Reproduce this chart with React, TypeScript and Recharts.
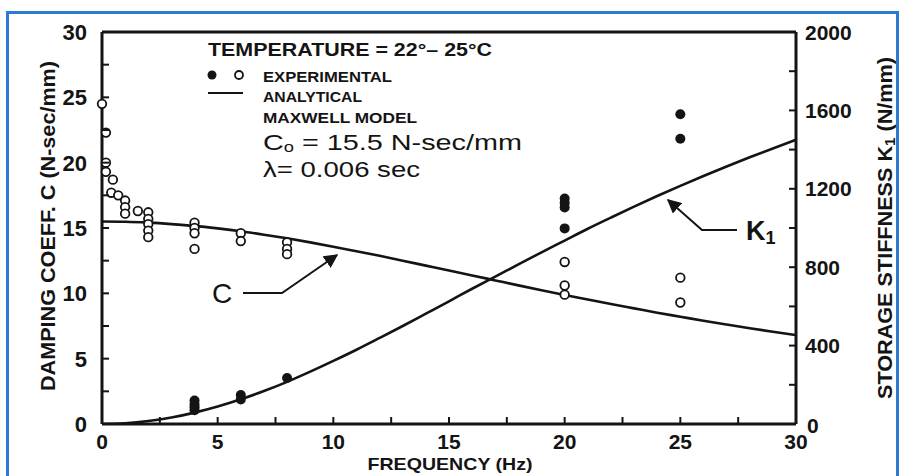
import React from 'react';
import {
  ComposedChart,
  Line,
  Scatter,
  XAxis,
  YAxis,
  ReferenceLine,
} from 'recharts';

// analytical curves (Maxwell model), every 1 Hz
const freqs = [0, 1, 2, 3, 4, 5, 6, 7, 8, 9, 10, 11, 12, 13, 14, 15, 16, 17, 18, 19, 20, 21, 22, 23, 24, 25, 26, 27, 28, 29, 30];
const dampingCurve = [15.5, 15.48, 15.41, 15.3, 15.16, 14.97, 14.75, 14.49, 14.21, 13.9, 13.57, 13.22, 12.87, 12.5, 12.12, 11.74, 11.37, 10.99, 10.61, 10.24, 9.88, 9.53, 9.18, 8.85, 8.52, 8.21, 7.9, 7.61, 7.33, 7.06, 6.8];
const stiffnessCurve = [0, 4, 15, 33, 58, 89, 126, 168, 215, 267, 322, 379, 439, 500, 563, 626, 690, 752, 814, 876, 936, 996, 1053, 1109, 1163, 1215, 1265, 1314, 1361, 1406, 1450];

// experimental points, open circles = damping coeff. C (left axis)
const openFreq = [0, 0.17, 0.17, 0.17, 0.47, 0.4, 0.7, 1, 1, 1, 1.55, 2, 2, 2, 2, 2, 4, 4, 4, 4, 6, 6, 8, 8, 8, 20, 20, 20, 25, 25];
const openC = [24.5, 22.3, 20.0, 19.3, 18.7, 17.7, 17.5, 17.1, 16.6, 16.1, 16.3, 16.2, 15.7, 15.3, 14.8, 14.3, 15.4, 15.0, 14.6, 13.4, 14.6, 14.0, 13.9, 13.4, 13.0, 12.4, 10.6, 9.9, 11.2, 9.3];

// filled circles = storage stiffness K1 (right axis)
const filledFreq = [4, 4, 4, 4, 6, 6, 8, 20, 20, 20, 20, 25, 25];
const filledK = [120, 100, 85, 70, 148, 125, 235, 1150, 1128, 1105, 998, 1580, 1455];

const xTicks = [0, 2.5, 5, 7.5, 10, 12.5, 15, 17.5, 20, 22.5, 25, 27.5, 30];
const leftTicks = [0, 2.5, 5, 7.5, 10, 12.5, 15, 17.5, 20, 22.5, 25, 27.5, 30];
const rightTicks = [0, 200, 400, 600, 800, 1000, 1200, 1400, 1600, 1800, 2000];

const cLine = freqs.map((f, i) => ({ f, c: dampingCurve[i] }));
const kLine = freqs.map((f, i) => ({ f, k: stiffnessCurve[i] }));
const openPts = openFreq.map((f, i) => ({ f, c: openC[i] }));
const filledPts = filledFreq.map((f, i) => ({ f, k: filledK[i] }));

const INK = '#141414';
const FONT = 'Arial, "Liberation Sans", Helvetica, sans-serif';

const LeftTick = (props: any) => {
  const { x, y, payload } = props;
  const v = payload.value;
  const major = v % 5 === 0;
  return (
    <g>
      {v > 0 && v < 30 && <line x1={x} x2={x + 7} y1={y} y2={y} stroke={INK} strokeWidth={2} />}
      {major && (
        <text x={x - 15} y={y} dy="0.36em" textAnchor="end" fontFamily={FONT} fontWeight={700} fontSize={22} fill={INK}>
          {v}
        </text>
      )}
    </g>
  );
};

const RightTick = (props: any) => {
  const { x, y, payload } = props;
  const v = payload.value;
  const major = v % 400 === 0;
  return (
    <g>
      {v > 0 && v < 2000 && <line x1={x} x2={x - 7} y1={y} y2={y} stroke={INK} strokeWidth={2} />}
      {major && (
        <text x={v === 0 ? x + 11 : x + 9} y={v === 0 ? y + 1 : y} dy="0.36em" textAnchor="start" fontFamily={FONT} fontWeight={700} fontSize={21} fill={INK}>
          {v}
        </text>
      )}
    </g>
  );
};

const BottomTick = (props: any) => {
  const { x, y, payload } = props;
  const v = payload.value;
  const major = v % 5 === 0;
  return (
    <g>
      {v > 0 && v < 30 && <line x1={x} x2={x} y1={y} y2={y - 7} stroke={INK} strokeWidth={2} />}
      {major && (
        <text x={x} y={y + 25} textAnchor="middle" fontFamily={FONT} fontWeight={700} fontSize={21} fill={INK}>
          {v}
        </text>
      )}
    </g>
  );
};

const OpenDot = (props: any) => (
  <circle cx={props.cx} cy={props.cy} r={4.3} fill="#fff" stroke={INK} strokeWidth={1.8} />
);

const FilledDot = (props: any) => (
  <circle cx={props.cx} cy={props.cy} r={5} fill={INK} stroke="none" />
);

export default function App() {
  return (
    <div style={{ position: 'fixed', left: 0, top: 0, width: 902, height: 476, background: '#fff', overflow: 'hidden' }}>
      <div
        style={{
          position: 'absolute',
          left: 6,
          top: 11,
          width: 887,
          height: 480,
          borderTop: '3px solid #2b7bd4',
          borderLeft: '3px solid #2b7bd4',
          borderRight: '3px solid #2b7bd4',
        }}
      />
      <div style={{ position: 'absolute', left: 0, top: 0 }}>
        <ComposedChart width={902} height={476} margin={{ top: 32, right: 46, bottom: 22, left: 52 }}>
          <XAxis
            dataKey="f"
            type="number"
            domain={[0, 30]}
            ticks={xTicks}
            interval={0}
            height={30}
            tickSize={0}
            tickMargin={0}
            tickLine={false}
            axisLine={{ stroke: INK, strokeWidth: 3 }}
            tick={<BottomTick />}
          />
          <YAxis
            yAxisId="left"
            orientation="left"
            type="number"
            domain={[0, 30]}
            ticks={leftTicks}
            interval={0}
            width={50}
            tickSize={0}
            tickMargin={0}
            tickLine={false}
            axisLine={{ stroke: INK, strokeWidth: 3 }}
            tick={<LeftTick />}
            allowDataOverflow
          />
          <YAxis
            yAxisId="right"
            orientation="right"
            type="number"
            domain={[0, 2000]}
            ticks={rightTicks}
            interval={0}
            width={60}
            tickSize={0}
            tickMargin={0}
            tickLine={false}
            axisLine={{ stroke: INK, strokeWidth: 3 }}
            tick={<RightTick />}
            allowDataOverflow
          />
          <ReferenceLine yAxisId="left" y={30} stroke={INK} strokeWidth={3} />
          <Line
            yAxisId="left"
            data={cLine}
            dataKey="c"
            type="monotone"
            stroke={INK}
            strokeWidth={2.6}
            dot={false}
            isAnimationActive={false}
          />
          <Line
            yAxisId="right"
            data={kLine}
            dataKey="k"
            type="monotone"
            stroke={INK}
            strokeWidth={2.6}
            dot={false}
            isAnimationActive={false}
          />
          <Scatter yAxisId="left" data={openPts} dataKey="c" shape={<OpenDot />} isAnimationActive={false} />
          <Scatter yAxisId="right" data={filledPts} dataKey="k" shape={<FilledDot />} isAnimationActive={false} />
        </ComposedChart>
      </div>
      <svg width={902} height={476} style={{ position: 'absolute', left: 0, top: 0, pointerEvents: 'none' }}>
        <defs>
          <marker id="arr" viewBox="0 0 10 10" refX="9" refY="5" markerWidth="7" markerHeight="7" orient="auto-start-reverse">
            <path d="M0,0 L10,5 L0,10 z" fill={INK} />
          </marker>
        </defs>
        {/* legend block */}
        <g fontFamily={FONT} fill={INK}>
          <text x={208} y={56} fontSize={18} fontWeight={700} textLength={284} lengthAdjust="spacingAndGlyphs">
            TEMPERATURE = 22°– 25°C
          </text>
          <circle cx={212} cy={75} r={4.5} fill={INK} />
          <circle cx={239} cy={75} r={4} fill="#fff" stroke={INK} strokeWidth={1.8} />
          <text x={263} y={82} fontSize={14} fontWeight={700} textLength={129} lengthAdjust="spacingAndGlyphs">
            EXPERIMENTAL
          </text>
          <line x1={208} x2={243} y1={93} y2={93} stroke={INK} strokeWidth={2} />
          <text x={263} y={102} fontSize={14} fontWeight={700} textLength={99} lengthAdjust="spacingAndGlyphs">
            ANALYTICAL
          </text>
          <text x={263} y={123} fontSize={14} fontWeight={700} textLength={154} lengthAdjust="spacingAndGlyphs">
            MAXWELL MODEL
          </text>
          <text x={263} y={150} fontSize={22} textLength={259} lengthAdjust="spacingAndGlyphs">
            C<tspan fontSize={14} dy={2}>o</tspan>
            <tspan dy={-2}> = 15.5 N-sec/mm</tspan>
          </text>
          <text x={263} y={177} fontSize={22} textLength={157} lengthAdjust="spacingAndGlyphs">
            λ= 0.006 sec
          </text>
        </g>
        {/* curve labels */}
        <g fontFamily={FONT} fill={INK}>
          <text x={222} y={303} fontSize={28} textAnchor="middle">C</text>
          <polyline points="243,293 282,293 337,255" fill="none" stroke={INK} strokeWidth={2} markerEnd="url(#arr)" />
          <text x={746} y={240} fontSize={27} fontWeight={700}>
            K<tspan fontSize={18} dy={4}>1</tspan>
          </text>
          <polyline points="737,230 702,230 668,200" fill="none" stroke={INK} strokeWidth={2} markerEnd="url(#arr)" />
        </g>
        {/* axis titles */}
        <g fontFamily={FONT} fill={INK} fontWeight={700}>
          <text
            transform="translate(55,226) rotate(-90)"
            textAnchor="middle"
            fontSize={20}
            textLength={330}
            lengthAdjust="spacingAndGlyphs"
          >
            DAMPING COEFF. C (N-sec/mm)
          </text>
          <text
            transform="translate(892,228) rotate(-90)"
            textAnchor="middle"
            fontSize={20}
            textLength={342}
            lengthAdjust="spacingAndGlyphs"
          >
            STORAGE STIFFNESS K<tspan fontSize={14} dy={3}>1</tspan>
            <tspan dy={-3}> (N/mm)</tspan>
          </text>
          <text x={450} y={470} textAnchor="middle" fontSize={17} textLength={165} lengthAdjust="spacingAndGlyphs">
            FREQUENCY (Hz)
          </text>
        </g>
      </svg>
    </div>
  );
}
